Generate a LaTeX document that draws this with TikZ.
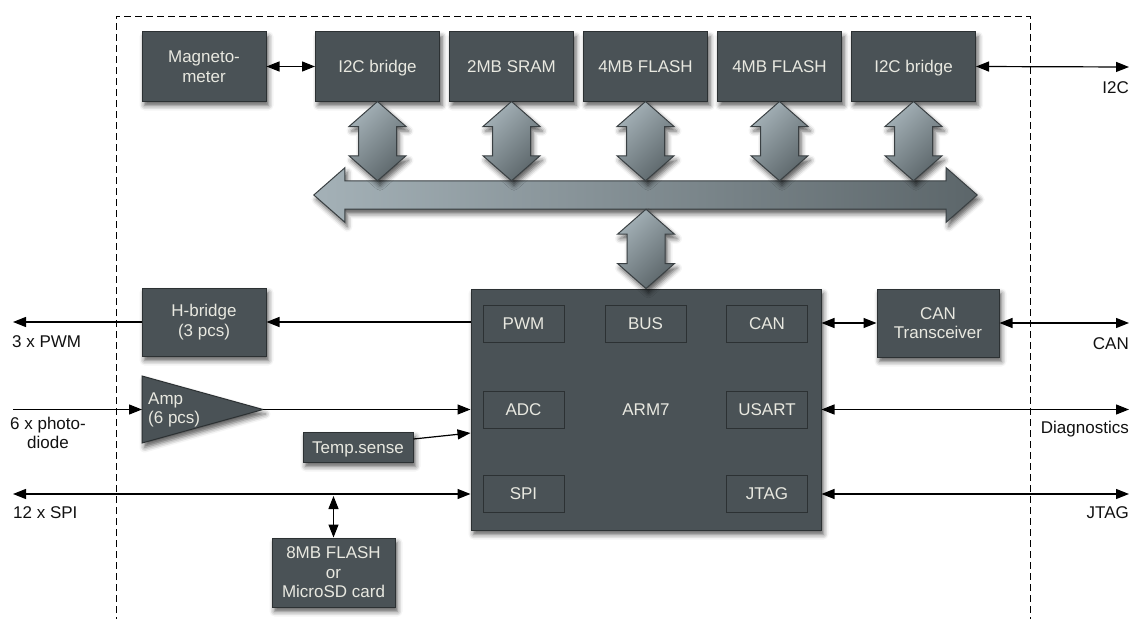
\documentclass[tikz,border=0pt]{standalone}
\usepackage{fontspec}
\setmainfont{Liberation Sans}
\usetikzlibrary{arrows.meta,shadows.blur,calc}
\begin{document}
\definecolor{boxfill}{HTML}{4A5256}
\definecolor{boxline}{HTML}{2C3133}
\definecolor{boxtext}{HTML}{E8E8E0}
\definecolor{linklight}{HTML}{A4B1B7}
\definecolor{linkdark}{HTML}{5C666A}
\definecolor{linkline}{HTML}{3A4043}
\definecolor{labeltext}{HTML}{111111}

\tikzset{
  txt/.style={font=\fontsize{17}{19.5}\selectfont},
  capcentred/.style={text height=12.2pt, text depth=0pt},
  softshadow/.style={blur shadow={shadow xshift=2.5pt, shadow yshift=-4.5pt,
      shadow blur radius=5pt, shadow opacity=65}},
  unit/.style={txt, draw=boxline, line width=1pt, fill=boxfill, text=boxtext,
      align=center, inner sep=0pt, softshadow},
  topunit/.style={unit, minimum width=124pt, minimum height=69pt},
  port/.style={txt, draw=boxline, line width=1pt, text=boxtext,
      minimum width=81pt, minimum height=37pt, inner sep=0pt},
  lbl/.style={txt, text=labeltext, inner sep=0pt},
  wire/.style={line width=1.2pt, draw=black},
  both/.style={wire, {Triangle[length=13pt,width=10pt]}-{Triangle[length=13pt,width=10pt]}},
  tohead/.style={wire, -{Triangle[length=13pt,width=10pt]}},
  bigarrow/.style={draw=linkline, line width=1pt, left color=linklight,
      right color=linkdark, shading angle=45, softshadow},
  busarrow/.style={draw=linkline, line width=1pt, left color=linklight,
      right color=linkdark, softshadow},
  frame/.style={line width=0.9pt, dash pattern=on 7pt off 4pt}
}

% vertical double-headed bus link from #1 (top) down to #2 (bottom)
\newcommand\vlink[2]{%
  \path[bigarrow] let \p1=#1, \p2=#2 in
    (\x1,\y1) -- ({\x1+28.5pt},{\y1-25pt}) -- ({\x1+19pt},{\y1-25pt})
    -- ({\x1+19pt},{\y2+25pt}) -- ({\x1+28.5pt},{\y2+25pt}) -- (\x1,\y2)
    -- ({\x1-28.5pt},{\y2+25pt}) -- ({\x1-19pt},{\y2+25pt})
    -- ({\x1-19pt},{\y1-25pt}) -- ({\x1-28.5pt},{\y1-25pt}) -- cycle;}

\begin{tikzpicture}[x=1pt,y=-1pt]
\useasboundingbox (0,0) rectangle (1131,618);

% board outline
\draw[frame] (116,624) -- (116,16) -- (1030,16) -- (1030,624);

% top row of peripherals
\node[topunit] (mag)    at (204,66.5)   {Magneto-\\meter};
\node[topunit, capcentred] (i2ca)   at (377.5,66.5) {I2C bridge};
\node[topunit, capcentred] (sram)   at (511.5,66.5) {2MB SRAM};
\node[topunit, capcentred] (flasha) at (645.5,66.5) {4MB FLASH};
\node[topunit, capcentred] (flashb) at (779.5,66.5) {4MB FLASH};
\node[topunit, capcentred] (i2cb)   at (913.5,66.5) {I2C bridge};

% processor
\node[unit, capcentred, minimum width=350pt, minimum height=241pt] (arm) at (646,409.5) {ARM7};
\node[port] (pwm)   at (523.5,324)   {PWM};
\node[port] (busp)  at (645.5,324)   {BUS};
\node[port] (canp)  at (767,324)     {CAN};
\node[port] (adc)   at (523.5,409.5) {ADC};
\node[port] (usart) at (767,409.5)   {USART};
\node[port] (spi)   at (523.5,494)   {SPI};
\node[port] (jtag)  at (767,494)     {JTAG};

% other units
\node[unit, minimum width=124pt, minimum height=68pt] (hb)   at (204,322)     {H-bridge\\(3 pcs)};
\node[unit, minimum width=122pt, minimum height=68pt] (cant) at (938,323)     {CAN\\Transceiver};
\node[unit, capcentred, minimum width=110pt, minimum height=30pt] (temp) at (358,447) {Temp.sense};
\node[unit, minimum width=123pt, minimum height=69pt] (fl8)  at (333.5,572.5) {8MB FLASH\\or\\MicroSD card};

% amplifier
\coordinate (ampL) at (142,409.5);
\coordinate (ampR) at (263,409.5);
\path[draw=boxline, line width=1pt, fill=boxfill, softshadow]
  (142,376) -- (ampR) -- (142,443) -- cycle;
\node[txt, text=boxtext, align=left, anchor=west, inner sep=0pt] (amptxt) at (148,410) {Amp\\(6 pcs)};

% internal bus
\node[minimum width=601pt, minimum height=28pt, inner sep=0pt] (bus) at (645.5,195) {};
\path[busarrow] (bus.north west) -- (bus.north east) -- ([yshift=13pt]bus.north east)
  -- ([xshift=31pt]bus.east) -- ([yshift=-13pt]bus.south east) -- (bus.south east)
  -- (bus.south west) -- ([yshift=-13pt]bus.south west) -- ([xshift=-31pt]bus.west)
  -- ([yshift=13pt]bus.north west) -- cycle;

\vlink{(i2ca.south)}{(i2ca.south |- bus.north)}
\vlink{(sram.south)}{(sram.south |- bus.north)}
\vlink{(flasha.south)}{(flasha.south |- bus.north)}
\vlink{(flashb.south)}{(flashb.south |- bus.north)}
\vlink{(i2cb.south)}{(i2cb.south |- bus.north)}
\vlink{(arm.north |- bus.south)}{(arm.north)}

% external ends
\coordinate (i2cR)  at (1129,67);
\coordinate (canR)  at (1129,323);
\coordinate (diagR) at (1129,409.5);
\coordinate (jtagR) at (1129,494);
\coordinate (pwmL)  at (13,322);
\coordinate (pdL)   at (13,409.5);
\coordinate (spiL)  at (13,494);

% signal wires
\draw[both] (mag.east) -- (i2ca.west);
\draw[both] (i2cb.east) -- (i2cR);
\draw[tohead] (hb.east -| arm.west) -- (hb.east);
\draw[tohead] (hb.west) -- (pwmL);
\draw[tohead] (pdL) -- (ampL);
\draw[tohead] (ampR) -- (ampR -| arm.west);
\draw[tohead] ([yshift=8pt]temp.east) -- ([yshift=-23.5pt]arm.west);
\draw[both] (spiL) -- (spiL -| arm.west);
\draw[both] ([yshift=-2pt]fl8.north |- spiL) -- (fl8.north);
\draw[both] (cant.west -| arm.east) -- (cant.west);
\draw[both] (cant.east) -- (canR);
\draw[both] (diagR -| arm.east) -- (diagR);
\draw[both] (jtagR -| arm.east) -- (jtagR);

% external labels
\node[lbl, anchor=east] (li2c)  at (1129,88)  {I2C};
\node[lbl, anchor=east] (lcan)  at (1129,344) {CAN};
\node[lbl, anchor=east] (ldiag) at (1129,429) {Diagnostics};
\node[lbl, anchor=east] (ljtag) at (1129,513) {JTAG};
\node[lbl, anchor=west] (lpwm)  at (12,342)   {3 x PWM};
\node[lbl, align=center] (lpd)  at (48,433)   {6 x photo-\\diode};
\node[lbl, anchor=west] (lspi)  at (13,513)   {12 x SPI};
\end{tikzpicture}
\end{document}
